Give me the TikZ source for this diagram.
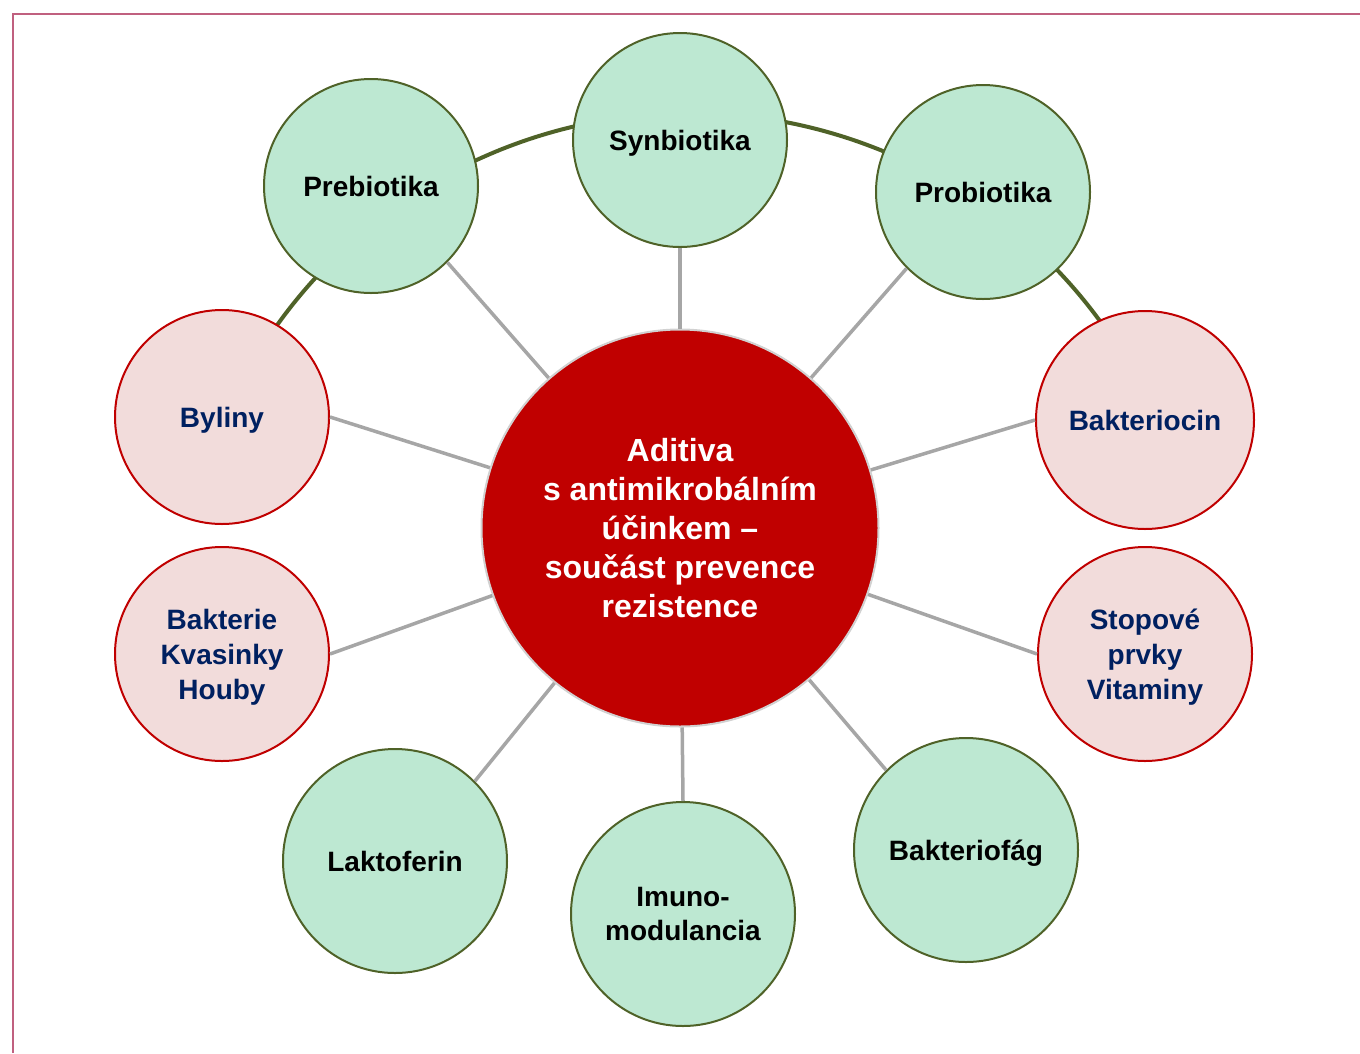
\documentclass[tikz,border=0pt]{standalone}
\usepackage{fontspec}
\setmainfont{Liberation Sans}
\definecolor{olivegr}{HTML}{4F6228}
\definecolor{greenfill}{HTML}{BDE8D2}
\definecolor{pinkfill}{HTML}{F2DCDB}
\definecolor{darkred}{HTML}{C00000}
\definecolor{navy}{HTML}{002060}
\definecolor{spokegray}{HTML}{A6A6A6}
\definecolor{framec}{HTML}{C0607F}
\begin{document}
\begin{tikzpicture}[x=1pt,y=-1pt,
  gnode/.style={circle, draw=olivegr, line width=2pt, fill=greenfill, minimum size=#1, inner sep=0pt,
    font=\bfseries\fontsize{28}{34}\selectfont, text=black, align=center, text depth=0pt},
  gnode/.default=214pt,
  pnode/.style={circle, draw=darkred, line width=2pt, fill=pinkfill, minimum size=#1, inner sep=0pt,
    font=\bfseries\fontsize{28}{35}\selectfont, text=navy, align=center, text depth=0pt},
  pnode/.default=214pt,
  cnode/.style={circle, draw=black!18, line width=2pt, fill=darkred, minimum size=397pt, inner sep=0pt,
    font=\bfseries\fontsize{32}{39}\selectfont, text=white, align=center},
  spoke/.style={draw=spokegray, line width=3.5pt},
  ring/.style={draw=olivegr, line width=4pt},
  framel/.style={draw=framec, line width=2pt}
]
\useasboundingbox (0,0) rectangle (1360,1053);
\draw[framel] (12.5,1053) -- (12.5,14) -- (1360,14);
% green arc behind the nodes
\draw[ring] plot[domain=34:146, samples=80, smooth] ({690+508*cos(\x)}, {621-508*sin(\x)});

\node[cnode] (c) at (680,528) {Aditiva\\s antimikrobálním\\účinkem –\\součást prevence\\rezistence};

\node[gnode] (syn) at (680,140) {Synbiotika};
\node[gnode] (pre) at (371,186) {Prebiotika};
\node[gnode] (pro) at (983,192) {Probiotika};
\node[pnode] (byl) at (222,417) {Byliny};
\node[pnode=218pt] (bak) at (1145,420) {Bakteriocin};
\node[pnode] (bkh) at (222,654) {Bakterie\\Kvasinky\\Houby};
\node[pnode] (sto) at (1145,654) {Stopové\\prvky\\Vitaminy};
\node[gnode=224pt] (lak) at (395,861) {Laktoferin};
\node[gnode=224pt] (imu) at (683,914) {Imuno-\\modulancia};
\node[gnode=224pt] (bfg) at (966,850) {Bakteriofág};

\draw[spoke] (syn.south) -- (c);
\draw[spoke] (pre.-45) -- (c);
\draw[spoke] (pro.-135) -- (c);
\draw[spoke] (byl.east) -- (c);
\draw[spoke] (bak.west) -- (c);
\draw[spoke] (bkh.east) -- (c);
\draw[spoke] (sto.west) -- (c);
\draw[spoke] (lak.45) -- (c);
\draw[spoke] (imu.north) -- (c);
\draw[spoke] (bfg.135) -- (c);
\end{tikzpicture}
\end{document}
